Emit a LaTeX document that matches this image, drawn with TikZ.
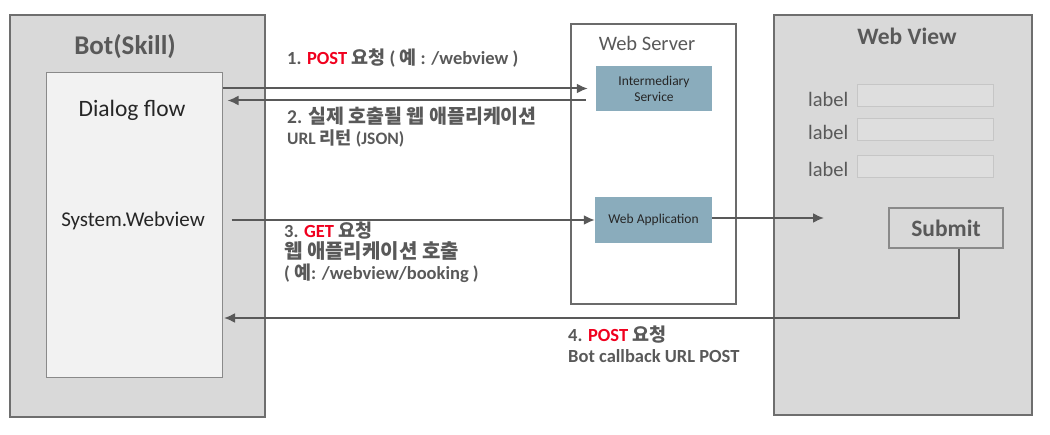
\documentclass[tikz,border=0pt]{standalone}
\usepackage{fontspec}
\setmainfont{Carlito}
\newfontfamily\kr{Noto Sans CJK KR}
\usetikzlibrary{positioning}
\usetikzlibrary{arrows.meta}
\definecolor{panelgray}{HTML}{D9D9D9}
\definecolor{panelline}{HTML}{6E6E6E}
\definecolor{innerfill}{HTML}{F2F2F2}
\definecolor{innerline}{HTML}{8A8A8A}
\definecolor{servline}{HTML}{6B6B6B}
\definecolor{svcblue}{HTML}{8AACBC}
\definecolor{fieldfill}{HTML}{DEDEDE}
\definecolor{fieldline}{HTML}{C6C6C6}
\definecolor{textgray}{HTML}{595959}
\definecolor{darktext}{HTML}{262626}
\definecolor{alert}{HTML}{F0001E}

\begin{document}
\begin{tikzpicture}[x=1pt,y=-1pt]
  \tikzset{
    panel/.style={draw=panelline, fill=panelgray, line width=1.2pt},
    inner/.style={draw=innerline, fill=innerfill, line width=1pt},
    server/.style={draw=servline, fill=white, line width=1.2pt},
    svc/.style={fill=svcblue, text=darktext, align=center, font=\fontsize{13.5}{16}\selectfont},
    field/.style={draw=fieldline, fill=fieldfill, line width=1pt, minimum width=136pt, minimum height=22pt},
    title/.style={text=textgray, font=\bfseries\fontsize{27}{30}\selectfont},
    bodytext/.style={text=darktext, font=\fontsize{21}{24}\selectfont},
    formlabel/.style={text=textgray, inner sep=0pt, font=\fontsize{20.5}{24}\selectfont},
    submit/.style={draw=innerline, fill=panelgray, line width=1.2pt, minimum width=114pt, minimum height=40pt, text=textgray, font=\bfseries\fontsize{23.5}{26}\selectfont},
    steptext/.style={text=textgray, inner sep=0pt, align=left, font=\bfseries\fontsize{18.5}{21}\selectfont},
    line/.style={draw=textgray, line width=2pt, -{Latex[length=11pt,width=10pt]}},
  }
  \useasboundingbox (0,0) rectangle (1050,435);

  % bot side
  \node [panel, minimum width=255pt, minimum height=402pt] (bot) at (137.5,216) {};
  \node [title] (bottitle) at (125,47) {Bot(Skill)};
  \node [inner, minimum width=176pt, minimum height=305pt] (dialog) at (134,225.5) {};
  \node [bodytext, font=\fontsize{23.5}{26}\selectfont] (flow) at (132,110) {Dialog flow};
  \node [bodytext] (sysweb) at (133,221) {System.Webview};

  % web server
  \node [server, minimum width=165pt, minimum height=280pt] (server) at (653.5,164) {};
  \node [text=textgray, font=\fontsize{20.5}{24}\selectfont] (servtitle) at (647,43) {Web Server};
  \node [svc, minimum width=116pt, minimum height=45pt] (inter) at (654,88.5) {Intermediary\\Service};
  \node [svc, minimum width=117pt, minimum height=46pt] (webapp) at (653.5,220) {Web Application};

  % web view
  \node [panel, minimum width=258pt, minimum height=400pt] (webview) at (903,215) {};
  \node [title, font=\bfseries\fontsize{23.5}{26}\selectfont] (viewtitle) at (907,36) {Web View};
  \foreach \y/\n in {96/1,129.5/2,166.5/3}{
    \node [field] (field\n) at (925,\y) {};
    \node [formlabel, left=8pt of field\n, yshift=-3pt] (label\n) {label};
  }
  \node [submit] (submit) at (946,228) {Submit};
  \coordinate (formin) at (824,218);
  \coordinate (botin) at (224,318);

  \path [line] (inter.west -| dialog.east) -- ([xshift=-8pt]inter.west);
  \path [line] ([xshift=-10pt,yshift=-12pt]inter.west) -- ([xshift=5pt,yshift=-12pt]inter.west -| dialog.east);
  \path [line] ([xshift=9pt]dialog.east |- webapp.west) -- (webapp.west);
  \path [line] (webapp.east |- formin) -- (formin);
  \path [line] ([xshift=13pt]submit.south) |- (botin);

  % step labels
  \node [steptext, anchor=west] (step1) at (287,58) {1. \textcolor{alert}{POST} {\kr 요청} ( {\kr 예} : /webview )};
  \node [steptext, anchor=west] (step2) at (287,127) {{\fontsize{19.5}{21}\selectfont 2. {\kr 실제 호출될 웹 애플리케이션}}\\{\fontsize{17.5}{21}\selectfont URL {\kr 리턴} (JSON)}};
  \node [steptext, anchor=west] (step3) at (284,252) {3. \textcolor{alert}{GET} {\kr 요청}\\{\fontsize{20}{21}\selectfont\kr 웹 애플리케이션 호출}\\( {\kr 예}: /webview/booking )};
  \node [steptext, anchor=west] (step4) at (568,344.5) {4. \textcolor{alert}{POST} {\kr 요청}\\{\fontsize{18.5}{21}\selectfont Bot callback URL POST}};
\end{tikzpicture}
\end{document}
